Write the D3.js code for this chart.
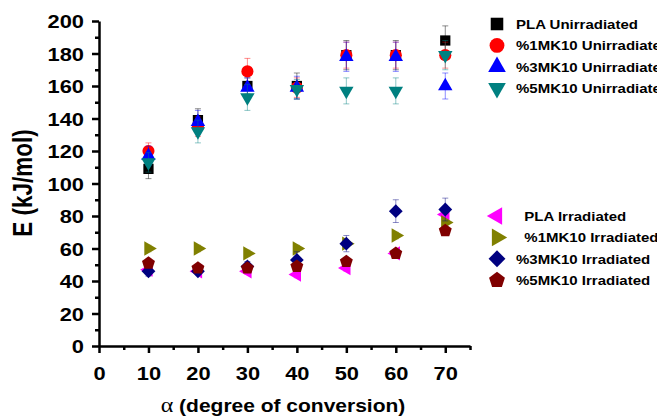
<!DOCTYPE html>
<html>
<head>
<meta charset="utf-8">
<script src="https://cdn.jsdelivr.net/npm/d3@7"></script>
<style>
body { margin: 0; background: #fff; }
text { font-family: "Liberation Sans", Arial, sans-serif; font-weight: bold; fill: #000; white-space: pre; }
</style>
</head>
<body>
<div id="chart"></div>
<script>
const width = 657;
const height = 420;

// degree of conversion (%)
const conversion = [10, 20, 30, 40, 50, 60, 70];

// activation energy, kJ/mol
const plaUnirr = [109, 139, 160, 160, 179, 179, 188];
const mk1Unirr = [120, 135, 169, 159, 179, 179, 179];
const mk3Unirr = [117, 138, 159, 159, 178, 178, 160];
const mk5Unirr = [113, 132, 153, 158, 157, 157, 179];

const plaIrr = [47, 46, 46, 44, 48, 57, 81];
const mk1Irr = [60, 60, 57, 60, 63, 68, 76];
const mk3Irr = [46, 46, 49, 53, 63, 83, 84];
const mk5Irr = [51, 48, 48, 49, 52, 57, 71];

// error bars
const plaUnirrErr = [6, 7, 5, 8, 9, 9, 9];
const mk1UnirrErr = [5, 6, 8, 6, 8, 8, 8];
const mk3UnirrErr = [6, 7, 6, 7, 9, 9, 8];
const mk5UnirrErr = [6, 7, 8, 6, 8, 8, 9];
const plaIrrErr = [2, 2, 2, 2, 2, 2, 2];
const mk1IrrErr = [2, 2, 2, 2, 2, 2, 2];
const mk3IrrErr = [3, 2, 3, 5, 5, 7, 7];
const mk5IrrErr = [2, 2, 2, 2, 2, 2, 2];

const unirrNames = ["PLA Unirradiated", "%1MK10 Unirradiated", "%3MK10 Unirradiated", "%5MK10 Unirradiated"];
const irrNames = ["  PLA Irradiated", "  %1MK10 Irradiated", "%3MK10 Irradiated", "%5MK10 Irradiated"];

const xTicks = [0, 10, 20, 30, 40, 50, 60, 70];
const yTicks = [0, 20, 40, 60, 80, 100, 120, 140, 160, 180, 200];

const pentagon = {
    draw(context, size) {
        const r = Math.sqrt(size / 2.378);
        for (let i = 0; i < 5; i++) {
            const a = -Math.PI / 2 + i * 2 * Math.PI / 5;
            const px = r * Math.cos(a), py = r * Math.sin(a);
            if (i === 0) context.moveTo(px, py); else context.lineTo(px, py);
        }
        context.closePath();
    }
};

const series = [
    { name: unirrNames[0], values: plaUnirr, err: plaUnirrErr, color: "#000000", type: d3.symbolSquare, size: 105, rot: 0 },
    { name: unirrNames[1], values: mk1Unirr, err: mk1UnirrErr, color: "#ff0000", type: d3.symbolCircle, size: 115, rot: 0 },
    { name: unirrNames[2], values: mk3Unirr, err: mk3UnirrErr, color: "#0000ff", type: d3.symbolTriangle, size: 90, rot: 0 },
    { name: unirrNames[3], values: mk5Unirr, err: mk5UnirrErr, color: "#008080", type: d3.symbolTriangle, size: 90, rot: 180 },
    { name: irrNames[0], values: plaIrr, err: plaIrrErr, color: "#ff00ff", type: d3.symbolTriangle, size: 90, rot: -90 },
    { name: irrNames[1], values: mk1Irr, err: mk1IrrErr, color: "#808000", type: d3.symbolTriangle, size: 90, rot: 90 },
    { name: irrNames[2], values: mk3Irr, err: mk3IrrErr, color: "#000080", type: d3.symbolSquare, size: 95, rot: 45 },
    { name: irrNames[3], values: mk5Irr, err: mk5IrrErr, color: "#800000", type: pentagon, size: 110, rot: 0 }
];

const stretch = 1.15;

const svg = d3.select("#chart").append("svg")
    .attr("width", width)
    .attr("height", height);

const x = d3.scaleLinear().domain([0, 75]).range([99, 470]);
const y = d3.scaleLinear().domain([0, 200]).range([346, 21]);

// minor ticks
svg.append("g")
    .attr("transform", `translate(0,${y(0)})`)
    .call(d3.axisBottom(x).tickValues(d3.range(5, 76, 10)).tickSize(4).tickFormat(""))
    .call(g => g.select(".domain").remove())
    .call(g => g.selectAll("line").attr("stroke-width", 2.5));
svg.append("g")
    .attr("transform", `translate(${x(0)},0)`)
    .call(d3.axisLeft(y).tickValues(d3.range(10, 200, 20)).tickSize(4).tickFormat(""))
    .call(g => g.select(".domain").remove())
    .call(g => g.selectAll("line").attr("stroke-width", 2.5));

const xAxis = svg.append("g")
    .attr("transform", `translate(0,${y(0)})`)
    .call(d3.axisBottom(x).tickValues(xTicks).tickSize(7).tickSizeOuter(0));
xAxis.select(".domain").attr("stroke-width", 2.5);
xAxis.selectAll(".tick line").attr("stroke-width", 2.5);
xAxis.selectAll(".tick text")
    .attr("y", 0).attr("dy", 0)
    .attr("transform", `translate(0,34) scale(${stretch},1)`)
    .style("font-size", "19px")
    .style("font-family", "'Liberation Sans', Arial, sans-serif")
    .style("font-weight", "bold");

const yAxis = svg.append("g")
    .attr("transform", `translate(${x(0)},0)`)
    .call(d3.axisLeft(y).tickValues(yTicks).tickSize(7).tickSizeOuter(0));
yAxis.select(".domain").attr("stroke-width", 2.5);
yAxis.selectAll(".tick line").attr("stroke-width", 2.5);
yAxis.selectAll(".tick text")
    .attr("x", 0).attr("dy", "0.36em")
    .attr("transform", `translate(-15,0) scale(${stretch},1)`)
    .style("font-size", "19px")
    .style("font-family", "'Liberation Sans', Arial, sans-serif")
    .style("font-weight", "bold");

// axis titles
const xTitle = svg.append("text")
    .attr("transform", `translate(283,412) scale(1.2,1)`)
    .attr("text-anchor", "middle")
    .style("font-size", "17.5px");
xTitle.append("tspan")
    .style("font-family", "'Liberation Serif', 'Times New Roman', serif")
    .style("font-weight", "normal")
    .style("font-size", "20px")
    .text("α");
xTitle.append("tspan").text(" (degree of conversion)");

svg.append("text")
    .attr("transform", `translate(32,183) rotate(-90) scale(1,1.2)`)
    .attr("text-anchor", "middle")
    .style("font-size", "22.5px")
    .text("E (kJ/mol)");

const symbolPath = s => d3.symbol().type(s.type).size(s.size)();

// error bars then markers
series.forEach(s => {
    const g = svg.append("g");
    const pts = conversion.map((c, i) => ({ c, v: s.values[i], e: s.err[i] }));
    const eb = g.selectAll("g.eb").data(pts).join("g")
        .attr("stroke", s.color).attr("stroke-opacity", 0.45).attr("stroke-width", 1);
    eb.append("line")
        .attr("x1", d => x(d.c)).attr("x2", d => x(d.c))
        .attr("y1", d => y(d.v - d.e)).attr("y2", d => y(d.v + d.e));
    eb.append("line")
        .attr("x1", d => x(d.c) - 3).attr("x2", d => x(d.c) + 3)
        .attr("y1", d => y(d.v + d.e)).attr("y2", d => y(d.v + d.e));
    eb.append("line")
        .attr("x1", d => x(d.c) - 3).attr("x2", d => x(d.c) + 3)
        .attr("y1", d => y(d.v - d.e)).attr("y2", d => y(d.v - d.e));
    g.selectAll("path").data(pts).join("path")
        .attr("d", symbolPath(s))
        .attr("transform", d => `translate(${x(d.c)},${y(d.v)}) rotate(${s.rot})`)
        .attr("fill", s.color);
});

// legends
const legendRows = [
    { items: series.slice(0, 4), top: 24 },
    { items: series.slice(4), top: 216 }
];
legendRows.forEach(block => {
    const lg = svg.append("g");
    block.items.forEach((s, i) => {
        const cy = block.top + i * 21.4;
        lg.append("path")
            .attr("d", d3.symbol().type(s.type).size(s.size * 1.5)())
            .attr("transform", `translate(497,${cy}) rotate(${s.rot})`)
            .attr("fill", s.color);
        lg.append("text")
            .attr("transform", `translate(516,${cy + 5}) scale(1.2,1)`)
            .style("font-size", "12.5px")
            .text(s.name);
    });
});
</script>
</body>
</html>
